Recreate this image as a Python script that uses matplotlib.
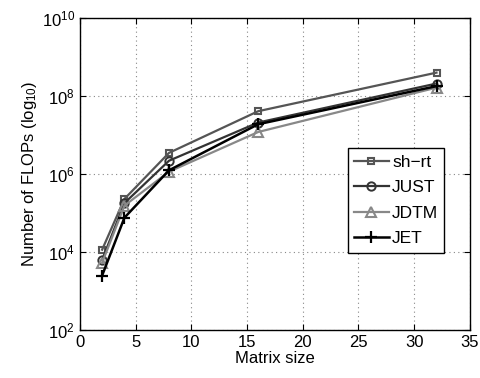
import matplotlib
matplotlib.use("Agg")
import matplotlib.pyplot as plt
from matplotlib.ticker import FixedLocator

plt.rcParams['font.family'] = ['Liberation Sans', 'DejaVu Sans']
plt.rcParams['mathtext.fontset'] = 'custom'
plt.rcParams['mathtext.rm'] = 'Liberation Sans'
plt.rcParams['mathtext.it'] = 'Liberation Sans'

sizes = [2, 4, 8, 16, 32]
sh_rt = [1.15e4, 2.3e5, 3.5e6, 4.1e7, 4.0e8]
just = [6.3e3, 1.8e5, 2.2e6, 2.1e7, 2.1e8]
jdtm = [5.3e3, 1.55e5, 1.15e6, 1.2e7, 1.65e8]
jet = [2.5e3, 7.6e4, 1.25e6, 1.9e7, 1.8e8]

fig = plt.figure(figsize=(4.81, 3.78), dpi=100)
ax = fig.add_axes([0.166, 0.127, 0.811, 0.825])

ax.plot(sizes, sh_rt, color='#555555', lw=1.6, marker='s', ms=5, mfc='none', mew=1.5, label='sh\u2212rt')
ax.plot(sizes, just, color='#333333', lw=1.6, marker='o', ms=6, mfc='none', mew=1.4, label='JUST')
ax.plot(sizes, jdtm, color='#888888', lw=1.6, marker='^', ms=7, mfc='none', mew=1.5, label='JDTM')
ax.plot(sizes, jet, color='black', lw=1.8, marker='+', ms=8, mew=1.6, label='JET')

ax.set_yscale('log')
ax.set_xlim(0, 35)
ax.set_ylim(1e2, 1e10)
ax.set_xticks([0, 5, 10, 15, 20, 25, 30, 35])
ax.yaxis.set_major_locator(FixedLocator([1e2, 1e4, 1e6, 1e8, 1e10]))
ax.yaxis.set_minor_locator(FixedLocator([]))
ax.set_yticklabels([r'$10^{2}$', r'$10^{4}$', r'$10^{6}$', r'$10^{8}$', r'$10^{10}$'])
ax.grid(True, which='major', linestyle=(0, (1, 3)), color='#888888', lw=0.8)
ax.tick_params(direction='in', labelsize=12, top=True, right=True, length=4)
for s in ax.spines.values():
    s.set_linewidth(1.0)
ax.set_xlabel('Matrix size', fontsize=12, labelpad=1)
ax.set_ylabel(r'Number of FLOPs (log$_{10}$)', fontsize=12, labelpad=2)

leg = ax.legend(loc='upper left', bbox_to_anchor=(0.687, 0.582), fontsize=12.5,
                fancybox=False, edgecolor='black', framealpha=1,
                handlelength=2.0, borderpad=0.35, labelspacing=0.6, handletextpad=0.2,
                borderaxespad=0)
leg.get_frame().set_linewidth(1.0)

fig.savefig('out.png', dpi=100)
